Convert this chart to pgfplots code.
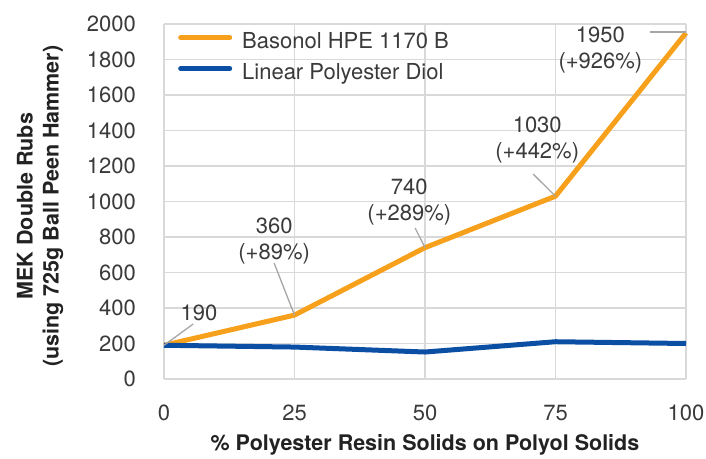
\documentclass[border=0pt]{standalone}
\usepackage{fontspec}
\setmainfont{TeX Gyre Heros}
\usepackage{pgfplots}
\pgfplotsset{compat=1.18}
\definecolor{orng}{HTML}{F7A01C}
\definecolor{blu}{HTML}{0A4FA3}
\definecolor{gridc}{HTML}{D9D9D9}
\definecolor{txt}{HTML}{3A3A3A}
\definecolor{lab}{HTML}{222222}
\definecolor{ann}{HTML}{A6A6A6}
\begin{document}
\begin{tikzpicture}[font=\fontsize{22}{26}\selectfont]
\path[use as bounding box] (-164pt,-79pt) rectangle (542pt,379pt);
\begin{axis}[
  at={(0,0)}, anchor=south west,
  scale only axis, width=522pt, height=355pt,
  xmin=0, xmax=100, ymin=0, ymax=2000,
  xtick={0,25,50,75,100}, ytick={0,200,...,2000},
  grid=major, major grid style={draw=gridc, line width=1.3pt},
  axis line style={draw=none}, tick style={draw=none},
  /pgf/number format/assume math mode=true,
  /pgf/number format/1000 sep={},
  ticklabel style={font=\fontsize{22}{26}\selectfont, text=txt, inner sep=0pt},
  xticklabel style={anchor=north, yshift=-26pt},
  yticklabel style={anchor=east, xshift=-28pt},
  xlabel={\% Polyester Resin Solids on Polyol Solids},
  ylabel={MEK Double Rubs\\(using 725g Ball Peen Hammer)},
  label style={font=\bfseries\fontsize{21.5}{26}\selectfont, text=lab},
  xlabel style={at={(axis description cs:0.5,-0.186)}, anchor=center},
  ylabel style={at={(axis description cs:-0.2375,0.487)}, anchor=center, align=center},
  legend style={draw=none, fill=none, at={(0.0268,0.9732)}, anchor=north west,
    inner sep=0pt, row sep=12pt, column sep=10pt,
    nodes={inner sep=0pt, text height=15pt, text depth=4pt, text=txt},
    font=\fontsize{22}{26}\selectfont},
  legend cell align=left,
  legend image code/.code={\draw[#1, line width=5pt, line cap=round] (2.5pt,5.5pt) -- (51.5pt,5.5pt);},
  clip=false,
]
\addplot[color=orng, line width=5pt, line join=round] coordinates {
  (0,190) (25,360) (50,740) (75,1030) (100,1950)};
\addlegendentry{Basonol HPE 1170 B}
\addplot[color=blu, line width=5pt, line join=round] coordinates {
  (0,190) (25,180) (50,152) (75,210) (100,200)};
\addlegendentry{Linear Polyester Diol}

\draw[ann, line width=1.3pt] (axis cs:5.6,310) -- (axis cs:0,190);
\draw[ann, line width=1.3pt] (axis cs:21.1,653) -- (axis cs:25,360);
\draw[ann, line width=1.3pt] (axis cs:48.1,851) -- (axis cs:50,740);
\draw[ann, line width=1.3pt] (axis cs:70.7,1155) -- (axis cs:75,1030);
\draw[ann, line width=1.3pt] (axis cs:93.1,1955) -- (axis cs:100,1955);

\node[text=txt, align=center, inner sep=0pt] at (axis cs:6.7,372) {190};
\node[text=txt, align=center, inner sep=0pt] at (axis cs:21.1,778) {360\\(+89\%)};
\node[text=txt, align=center, inner sep=0pt] at (axis cs:47.0,997) {740\\(+289\%)};
\node[text=txt, align=center, inner sep=0pt] at (axis cs:71.5,1344) {1030\\(+442\%)};
\node[text=txt, align=center, inner sep=0pt] at (axis cs:83.6,1853) {1950\\(+926\%)};
\end{axis}
\end{tikzpicture}
\end{document}
